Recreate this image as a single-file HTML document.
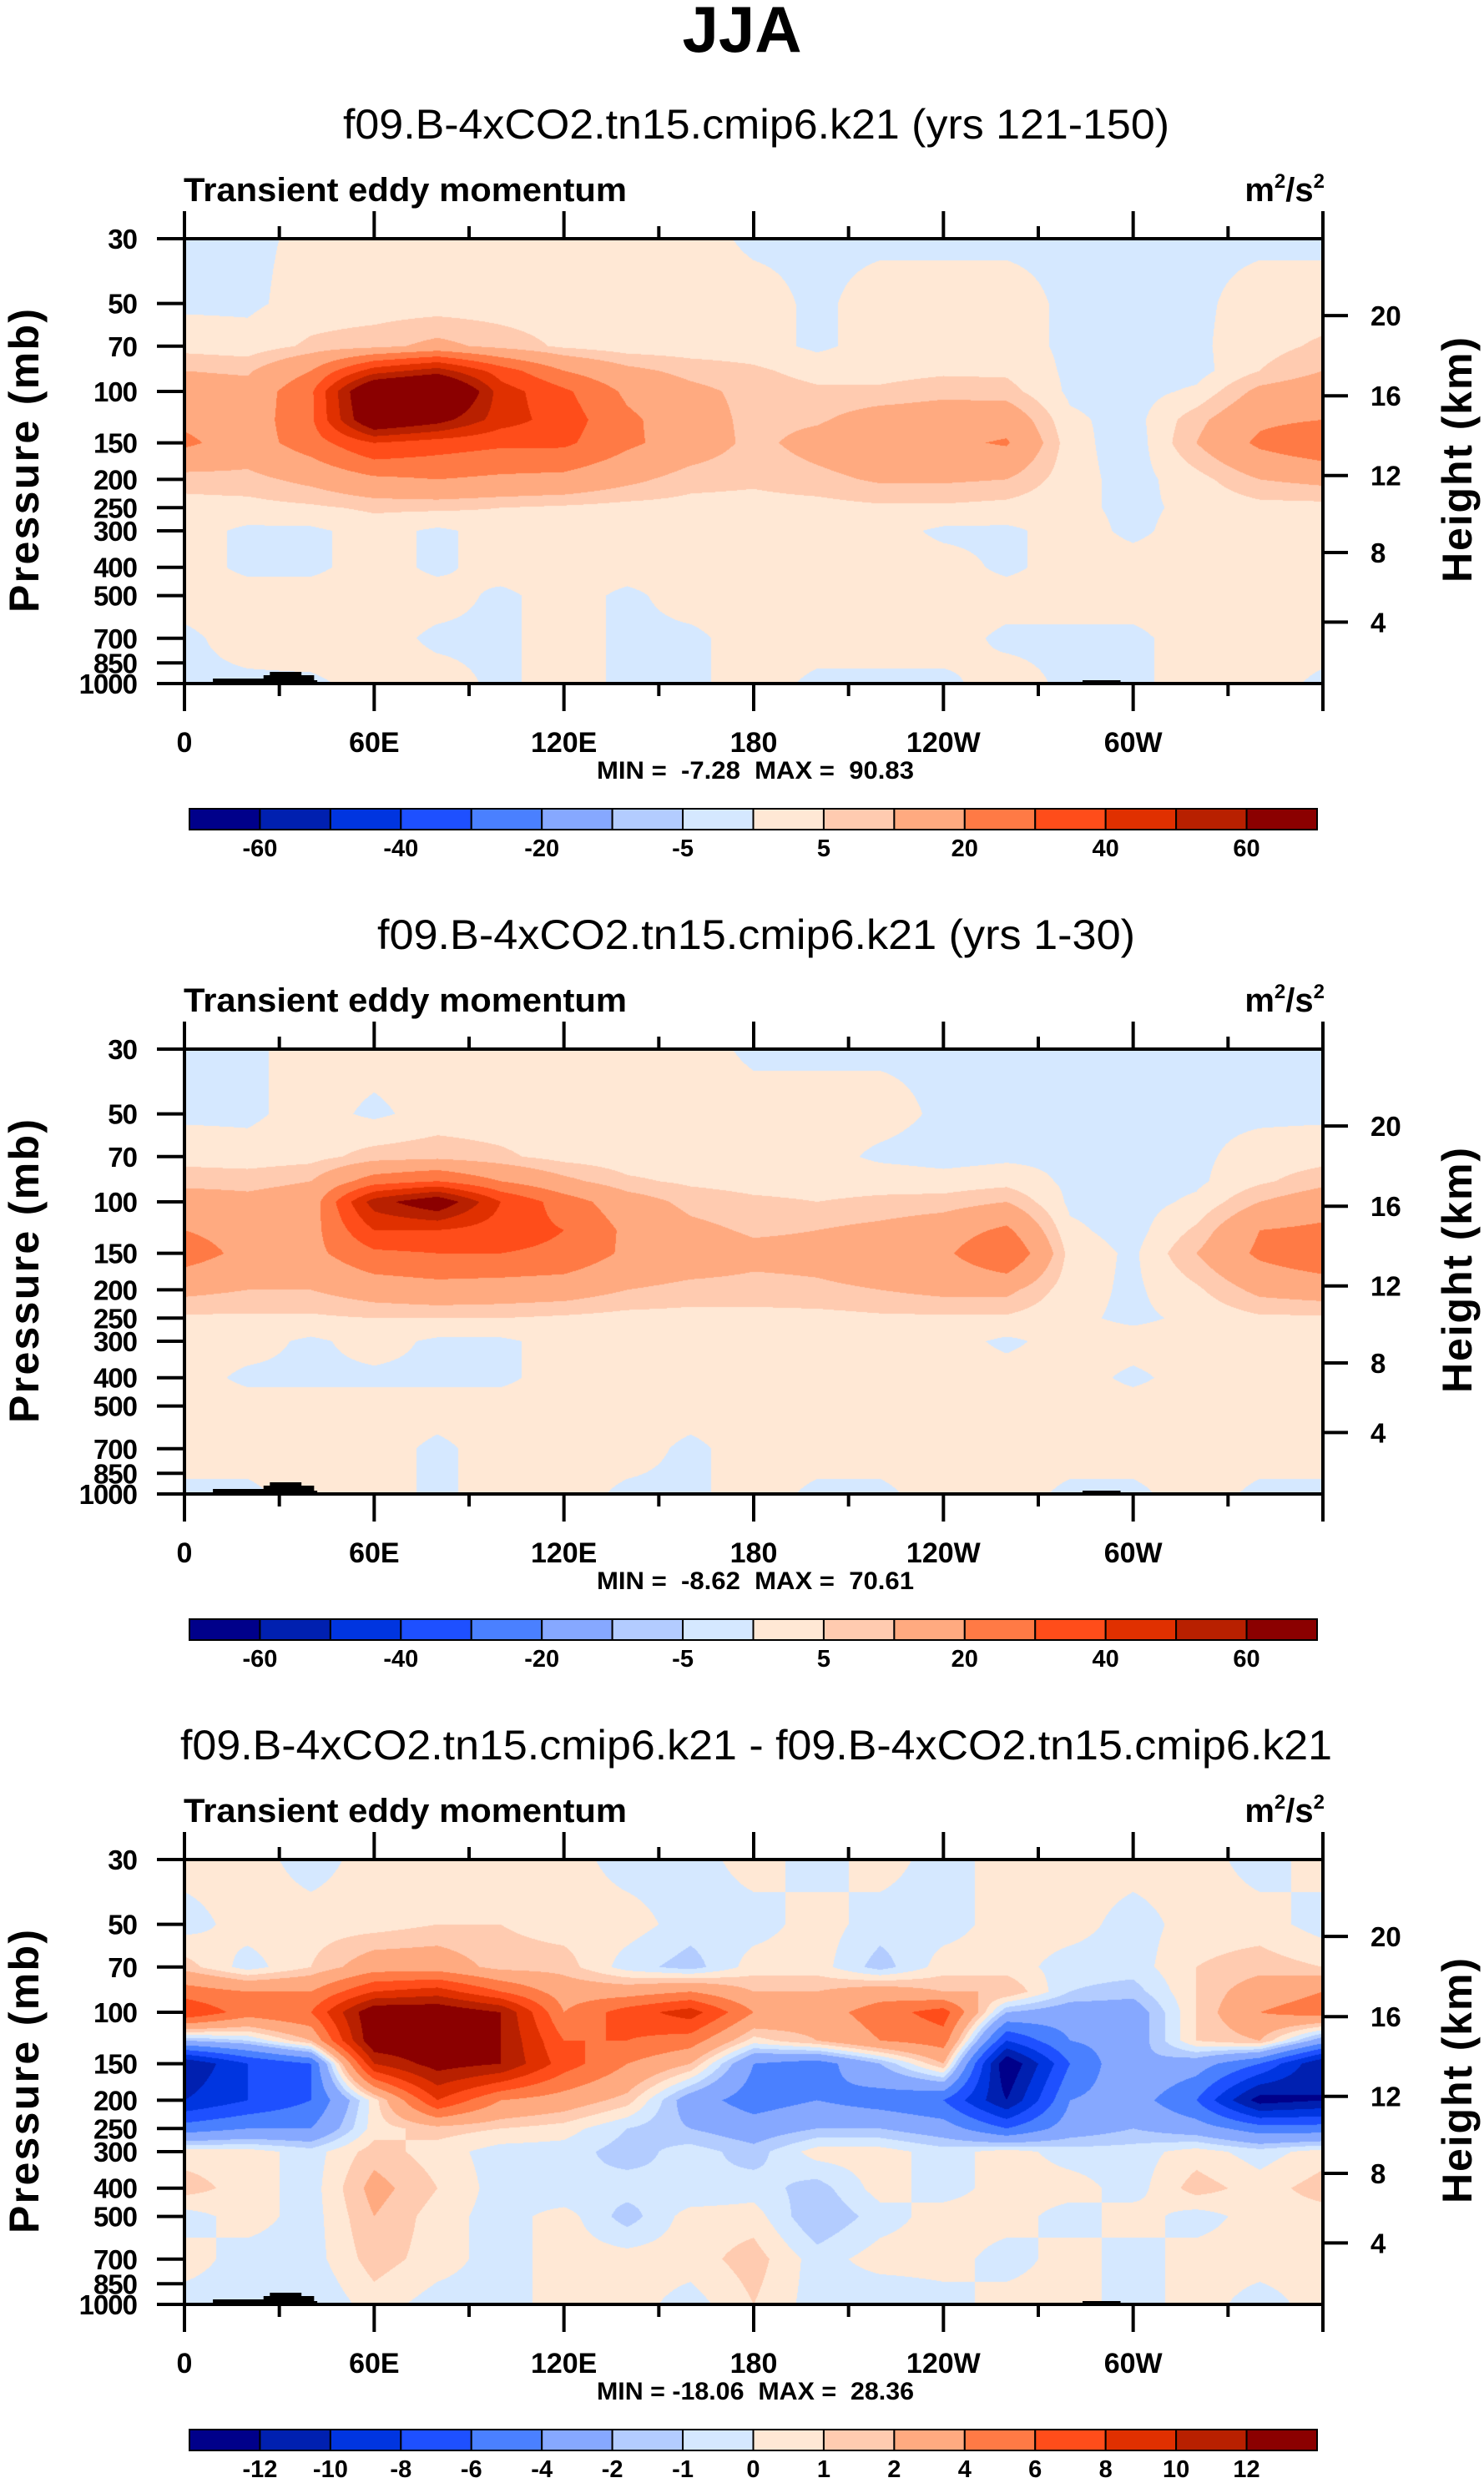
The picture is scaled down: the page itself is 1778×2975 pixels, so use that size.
<!DOCTYPE html>
<html><head><meta charset="utf-8">
<style>
html,body{margin:0;padding:0;background:#fff;}
#root{position:relative;width:1778px;height:2975px;overflow:hidden;font-family:"Liberation Sans",sans-serif;}
canvas{position:absolute;}
svg{position:absolute;left:0;top:0;}
</style></head>
<body>
<div id="root">
<svg id="main" width="1778" height="2975">
<text x="889" y="62" text-anchor="middle" font-family="Liberation Sans" font-weight="bold" font-size="78">JJA</text>
</svg>
</div>
<script>
// ---- data ----
const lons = [0,20,40,60,80,100,120,140,160,180,200,220,240,260,280,300,320,340,360];
const levels = [30,50,70,85,100,125,150,200,250,300,400,500,700,1000];
const bounds12 = [-60,-50,-40,-30,-20,-10,-5,0,5,10,20,30,40,50,60];
const bounds3 = [-12,-10,-8,-6,-4,-2,-1,0,1,2,4,6,8,10,12];
const cbLabels12 = ["-60","-40","-20","-5","5","20","40","60"];
const cbLabels3 = ["-12","-10","-8","-6","-4","-2","-1","0","1","2","4","6","8","10","12"];
const lonTicks = [0,60,120,180,240,300];
const lonTickLabels = ["0","60E","120E","180","120W","60W"];
const pTicks = [30,50,70,100,150,200,250,300,400,500,700,850,1000];
const hTicks = [20,16,12,8,4];
const hTickPressure = [55,103.5,194,356,616];
const subtitles = ["f09.B-4xCO2.tn15.cmip6.k21 (yrs 121-150)","f09.B-4xCO2.tn15.cmip6.k21 (yrs 1-30)","f09.B-4xCO2.tn15.cmip6.k21 - f09.B-4xCO2.tn15.cmip6.k21"];
const subtitleWidths = [990,908,1380];
const minmax = ["MIN =  -7.28  MAX =  90.83","MIN =  -8.62  MAX =  70.61","MIN = -18.06  MAX =  28.36"];
const colors = ["#00008a","#0020b0","#0035e0","#1e50ff","#4a80ff","#86a8ff","#b3ccff","#d5e8ff","#ffe8d5","#ffcbb0","#ffaa80","#ff7a45","#ff4d1a","#e03000","#b82000","#8b0000"];

const field1 = [
[-1,-1,1,2,2,2,2,2,2,-1,-1,-1,-1,-1,-1,-1,-1,-1,-1],
[-1,-1,2,2,2,2,2,2,2,2,-1,2,2,2,-1,-1,-1,2,2],
[3,2,6,8,12,8,4,2,2,2,-1,2,2,2,-1,-2,-1,3,6],
[10,9,20,45,55,35,20,12,8,6,3,3,4,4,-1,-3,-2,5,10],
[14,13,28,80,90,45,32,18,12,8,6,6,8,7,-1,-2,1,12,15],
[18,14,28,75,65,45,35,22,14,8,9,14,15,16,1,-2,8,18,20],
[22,15,25,40,35,32,32,22,15,8,13,17,18,21,2,-3,10,22,28],
[7,8,12,18,20,18,17,12,7,6,8,11,11,10,2,-2,3,10,12],
[3,3,4,6,6,5,4,3,3,3,3,4,4,3,1,-1,1,3,3],
[2,-1,-1,2,-1,2,2,2,2,2,2,2,-1,-1,2,-1,2,2,2],
[2,-1,-1,2,-1,2,2,2,2,2,2,2,2,-1,2,2,2,2,2],
[2,2,2,2,2,-1,2,-1,2,2,2,2,2,2,2,2,2,2,2],
[-1,2,3,2,-1,-1,2,-1,-1,2,2,2,2,-1,-1,-1,2,2,2],
[-1,-1,-1,2,2,-1,2,-1,-1,2,-1,-1,-1,2,-1,-1,2,2,-1]];
const field2 = [
[-1,-1,2,2,2,2,2,2,2,-1,-1,-1,-1,-1,-1,-1,-1,-1,-1],
[-1,-1,2,-1,2,2,2,2,2,2,2,2,-1,-1,-1,-1,-1,-1,-1],
[3,2,3,7,8,6,3,2,2,2,2,-1,-2,-1,-1,-2,-1,2,3],
[8,8,10,25,30,20,12,6,4,3,3,3,2,3,-1,-2,-1,4,8],
[14,12,14,55,70,40,25,14,8,6,5,6,7,10,-1,-2,1,10,15],
[20,16,16,40,40,35,30,18,12,9,10,12,15,22,1,-2,6,20,22],
[25,17,17,28,30,30,28,18,15,12,12,14,18,30,3,-1,10,22,28],
[12,10,10,14,16,15,14,10,8,8,9,10,12,12,2,-1,4,12,14],
[4,4,4,5,5,5,4,3,3,3,3,4,4,4,1,-1,1,4,4],
[2,2,-1,2,-1,-1,2,2,2,2,2,2,2,-1,2,2,2,2,2],
[2,-1,-1,-1,-1,-1,2,2,2,2,2,2,2,2,2,-1,2,2,2],
[2,2,2,2,2,2,2,2,2,2,2,2,2,2,2,2,2,2,2],
[2,2,2,2,-1,2,2,2,-1,2,2,2,2,2,2,2,2,2,2],
[-1,-1,2,2,-1,2,2,-1,-1,2,-1,-1,2,2,-1,-1,2,-1,-1]];
const field3 = [
[0.5,0.5,-0.5,0.5,0.5,0.5,0.5,-0.5,-0.5,0.5,-0.5,0.5,-0.5,0.5,0.5,0.5,0.5,-0.5,0.5],
[-0.5,0.5,0.5,0.5,1,1,0.5,0.5,-0.5,-0.5,0.5,-0.5,-0.5,0.5,0.5,-0.5,0.5,0.5,-0.5],
[1.5,-0.5,1,3,3,1.5,1.5,-0.5,-1.5,0.5,0.5,-1.5,0.5,0.5,-0.5,-0.5,1,1.5,1],
[5,4,4,8,9,6,3,3,4,2,2,3,2,2,-1,-1.5,1,3,4],
[8,5,6,14,14,12,4,7,9,4,3,5,7,-2,-3,-3,1,4,5],
[-2,-1,2,14,14,12,6,6,5,0.5,2,4,5,-8,-4,-3,1,2,-3],
[-12,-8,-6,10,13,12,7,4,2,-4,-5,-2,2,-14,-6,-2,-3,-6,-12],
[-10,-8,-6,0.5,8,4,3,1.5,-3,-5,-4,-5,-6,-12,-4,-3,-6,-13,-12],
[-5,-4,-4,0.5,1.5,1,0.5,-1,-2,-3,-2,-2,-3,-6,-3,-2,-3,-5,-5],
[0.5,0.5,-0.5,1.5,0.5,-0.5,-0.5,-1.5,-0.5,-1.5,0.5,0.5,-0.5,0.5,-0.5,-0.5,0.5,-0.5,0.5],
[1.5,0.5,-0.5,2.5,1,-0.5,-1,-0.5,-1,-0.5,-1.5,0.5,-0.5,0.5,0.5,-0.5,1.5,0.5,1.5],
[-0.5,0.5,-0.5,2,0.5,-0.5,0.5,-1.5,0.5,0.5,-2,-0.5,0.5,0.5,-0.5,0.5,-0.5,0.5,0.5],
[0.5,-0.5,-0.5,1.5,0.5,-0.5,0.5,0.5,0.5,1.5,-0.5,0.5,0.5,-0.5,0.5,-0.5,0.5,0.5,0.5],
[-0.5,-0.5,-1,0.5,-0.5,-0.5,0.5,0.5,-0.5,1,-0.5,-1,-0.5,0.5,0.5,-0.5,0.5,-0.5,0.5]];
const topoLon = [6,9,9,25,25,27,27,37,37,41,41,42,42];
const topoH = [0,2,6,6,10,10,14,14,10,10,4,4,0];
const topo2Lon = [283,284,284,296,296,300,300];
const topo2H = [0,0,4,4,2,2,0];

// ---- layout ----
const PX=221, PW=1364, PH=533, PTOP=286, OFF=971;
const lnTop=Math.log(30), lnBot=Math.log(1000);
function xScale(lon){return PX+lon/360*PW;}
function yScale(p,o){return o+PTOP+(Math.log(p)-lnTop)/(lnBot-lnTop)*PH;}
const NS="http://www.w3.org/2000/svg";
const svg=document.getElementById('main');
const root=document.getElementById('root');
function mk(tag,attrs,parent){const e=document.createElementNS(NS,tag);for(const k in attrs)e.setAttribute(k,attrs[k]);(parent||svg).appendChild(e);return e;}

function sample(field,lon,p){
  let i=Math.min(lons.length-2,Math.floor(lon/20));let fx=(lon-lons[i])/20;
  const lp=Math.log(p);let j=0;
  while(j<levels.length-2 && Math.log(levels[j+1])<lp) j++;
  const l0=Math.log(levels[j]),l1=Math.log(levels[j+1]);
  let fy=Math.max(0,Math.min(1,(lp-l0)/(l1-l0)));
  const a=field[j][i],b=field[j][i+1],c=field[j+1][i],d=field[j+1][i+1];
  return (a*(1-fx)+b*fx)*(1-fy)+(c*(1-fx)+d*fx)*fy;
}
function binColor(v,b){let k=0;while(k<b.length&&v>=b[k])k++;return k;}
const rgb=colors.map(c=>[parseInt(c.slice(1,3),16),parseInt(c.slice(3,5),16),parseInt(c.slice(5,7),16)]);

function panel(idx,field,bounds,cbl){
  const o=idx*OFF;
  const cv=document.createElement('canvas');
  cv.width=PW;cv.height=PH;cv.style.left=PX+'px';cv.style.top=(o+PTOP)+'px';
  
  
  root.insertBefore(cv,svg);
  const ctx=cv.getContext('2d');const img=ctx.createImageData(PW,PH);
  for(let y=0;y<PH;y++){
    const p=Math.exp(lnTop+(y+0.5)/PH*(lnBot-lnTop));
    for(let x=0;x<PW;x++){
      const lon=(x+0.5)/PW*360;
      const k=binColor(sample(field,lon,p),bounds);
      const q=(y*PW+x)*4;img.data[q]=rgb[k][0];img.data[q+1]=rgb[k][1];img.data[q+2]=rgb[k][2];img.data[q+3]=255;
    }
  }
  ctx.putImageData(img,0,0);
  const g=mk('g',{});
  
  
  const bottom=o+PTOP+PH;
  let pts=topoLon.map((l,i)=>xScale(l)+','+(bottom-topoH[i])).join(' ');
  const t1=mk('polygon',{points:pts,fill:'#000'},g);
  
  
  pts=topo2Lon.map((l,i)=>xScale(l)+','+(bottom-topo2H[i])).join(' ');
  const t2=mk('polygon',{points:pts,fill:'#000'},g);
  
  
  const fr=mk('rect',{x:PX,y:o+PTOP,width:PW,height:PH,fill:'none',stroke:'#000','stroke-width':4},g);
  
  
  for(let l=0;l<=360;l+=30){
    const x=xScale(l);const major=(l%60===0);const len=major?33:15;
    mk('line',{x1:x,x2:x,y1:o+PTOP,y2:o+PTOP-len,stroke:'#000','stroke-width':4},g);
    mk('line',{x1:x,x2:x,y1:bottom,y2:bottom+len,stroke:'#000','stroke-width':4},g);
  }
  lonTicks.forEach((l,i)=>{
    const t=mk('text',{x:xScale(l),y:o+901,'text-anchor':'middle','font-weight':'bold','font-size':34},g);
    t.textContent=lonTickLabels[i];
    
    
  });
  pTicks.forEach(p=>{
    const y=yScale(p,o);
    mk('line',{x1:PX,x2:PX-33,y1:y,y2:y,stroke:'#000','stroke-width':4},g);
    const t=mk('text',{x:164,y:y+12,'text-anchor':'end','font-weight':'bold','font-size':33,'letter-spacing':-1},g);
    t.textContent=p;
    
    
  });
  hTicks.forEach((h,i)=>{
    const y=yScale(hTickPressure[i],o);
    mk('line',{x1:PX+PW,x2:PX+PW+30,y1:y,y2:y,stroke:'#000','stroke-width':4},g);
    const t=mk('text',{x:1642,y:y+12,'font-weight':'bold','font-size':33},g);
    t.textContent=h;
    
    
  });
  let t=mk('text',{x:906,y:o+166,'text-anchor':'middle','font-size':50,textLength:subtitleWidths[idx],lengthAdjust:'spacingAndGlyphs'},g);
  t.textContent=subtitles[idx];
  
  
  t=mk('text',{x:220,y:o+241,'font-weight':'bold','font-size':40,textLength:531,lengthAdjust:'spacingAndGlyphs'},g);
  t.textContent='Transient eddy momentum';
  
  
  t=mk('text',{x:1587,y:o+241,'text-anchor':'end','font-weight':'bold','font-size':40},g);
  t.innerHTML='m<tspan font-size="24" dy="-16">2</tspan><tspan dy="16">/s</tspan><tspan font-size="24" dy="-16">2</tspan>';
  
  
  t=mk('text',{x:905,y:o+933,'text-anchor':'middle','font-weight':'bold','font-size':30,'xml:space':'preserve',textLength:380,lengthAdjust:'spacingAndGlyphs'},g);
  t.style.whiteSpace='pre';
  t.textContent=minmax[idx];
  
  
  t=mk('text',{transform:'translate(46,'+(o+552)+') rotate(-90)','text-anchor':'middle','font-weight':'bold','font-size':50,textLength:364},g);
  t.textContent='Pressure (mb)';
  
  
  t=mk('text',{transform:'translate(1763,'+(o+551)+') rotate(-90)','text-anchor':'middle','font-weight':'bold','font-size':50,textLength:294},g);
  t.textContent='Height (km)';
  
  
  const cx0=227,cw=(1578-227)/16,cy=o+969,ch=25;
  colors.forEach((c,i)=>{
    const r=mk('rect',{x:cx0+i*cw,y:cy,width:cw,height:ch,fill:c,stroke:'#000','stroke-width':2},g);
    
    
  });
  cbl.forEach((lab,i)=>{
    const bi = cbl.length===8 ? 2*i+1 : i+1;
    const tt=mk('text',{x:cx0+bi*cw,y:o+1026,'text-anchor':'middle','font-weight':'bold','font-size':29},g);
    tt.textContent=lab;
    
    
  });
}
panel(0,field1,bounds12,cbLabels12);
panel(1,field2,bounds12,cbLabels12);
panel(2,field3,bounds3,cbLabels3);
</script>
</body></html>
